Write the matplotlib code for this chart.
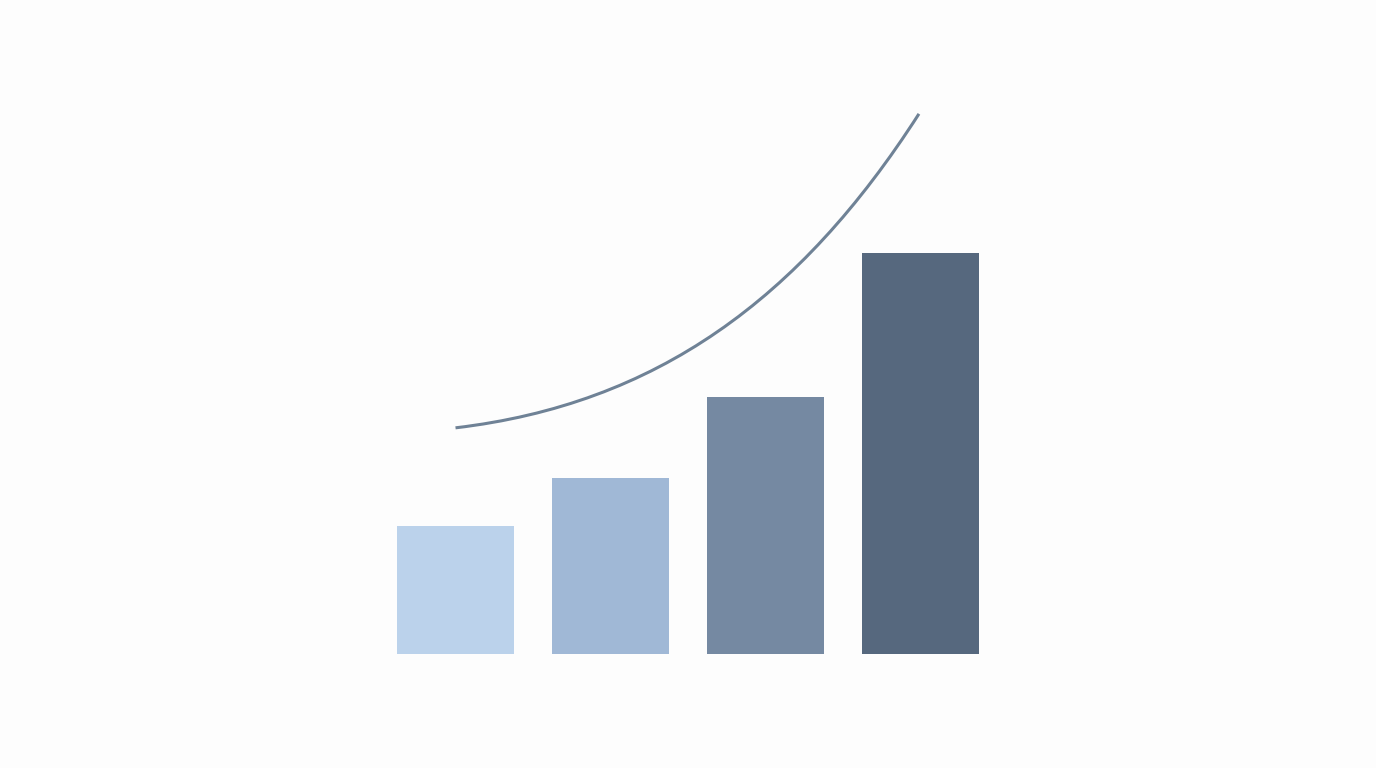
import matplotlib
matplotlib.use("Agg")
import matplotlib.pyplot as plt
from matplotlib.path import Path
from matplotlib.patches import PathPatch

# bar values (relative heights)
categories = ["A", "B", "C", "D"]
values = [32, 44, 64, 100]
bar_colors = ["#BBD2EB", "#A0B8D6", "#7589A2", "#56687E"]

# trend curve above the bars: one cubic bezier, control points
curve_ctrl_x = [0.0, 1.29, 2.22, 2.99]
curve_ctrl_y = [56.4, 62.3, 88.3, 134.7]

fig = plt.figure(figsize=(13.76, 7.68), dpi=100)
fig.patch.set_facecolor("#FDFDFD")
ax = fig.add_axes([0, 0, 1, 1])
ax.set_facecolor("#FDFDFD")

x = range(len(categories))
ax.bar(x, values, width=0.755, color=bar_colors, linewidth=0)

curve = Path(list(zip(curve_ctrl_x, curve_ctrl_y)),
             [Path.MOVETO, Path.CURVE4, Path.CURVE4, Path.CURVE4])
ax.add_patch(PathPatch(curve, facecolor="none", edgecolor="#6F8296",
                       linewidth=2.2, capstyle="butt"))

ax.set_xlim(-2.939, 5.939)
ax.set_ylim(-28.43, 163.09)
ax.axis("off")

fig.savefig("out.png", dpi=100, facecolor=fig.get_facecolor())
